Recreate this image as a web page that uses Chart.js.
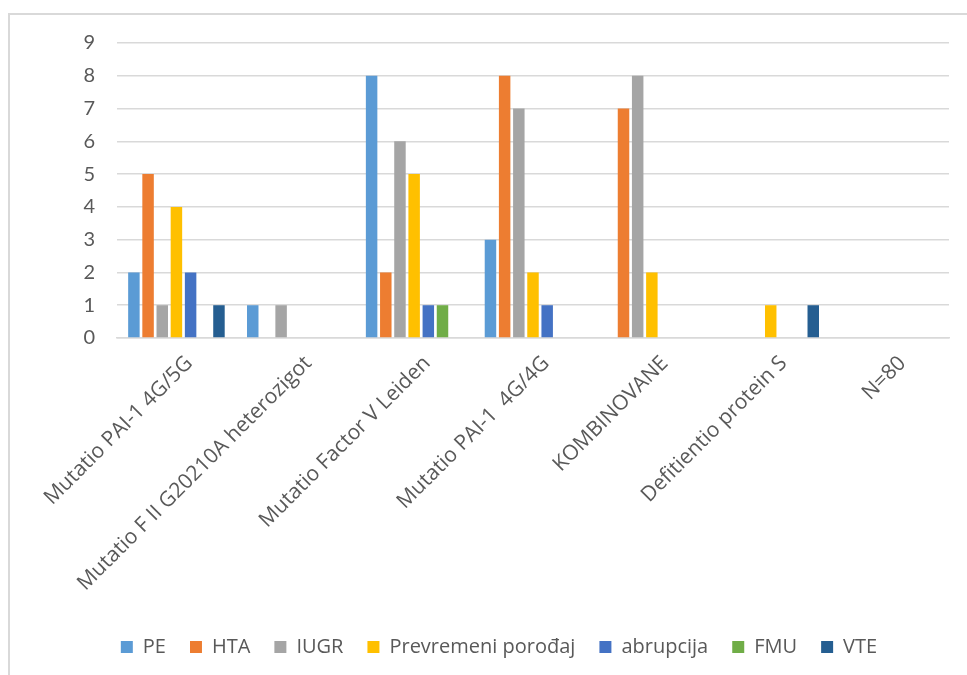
<!DOCTYPE html>
<html lang="sr">
<head>
  <meta charset="UTF-8">
  <title>Mutacije i komplikacije trudnoće</title>
  <script src="https://cdn.jsdelivr.net/npm/chart.js"></script>
  <style>
    html, body { margin: 0; padding: 0; background: #fff; overflow: hidden; }
    .frame { position: absolute; left: 8px; top: 13px; width: 1000px; height: 700px; border: 2px solid #d9d9d9; }
    .wrap { position: absolute; left: 0; top: 0; width: 967px; height: 675px; }
  </style>
</head>
<body>
  <div class="frame"></div>
  <div class="wrap"><canvas id="chart"></canvas></div>

  <script>
    // Categories (mutations) and counts per complication
    const categories = [
      'Mutatio PAI-1 4G/5G',
      'Mutatio F II G20210A heterozigot',
      'Mutatio Factor V Leiden',
      'Mutatio PAI-1  4G/4G',
      'KOMBINOVANE',
      'Defitientio protein S',
      'N=80'
    ];
    const pe         = [2, 1, 8, 3, 0, 0, 0];
    const hta        = [5, 0, 2, 8, 7, 0, 0];
    const iugr       = [1, 1, 6, 7, 8, 0, 0];
    const prevremeni = [4, 0, 5, 2, 2, 1, 0];
    const abrupcija  = [2, 0, 1, 1, 0, 0, 0];
    const fmu        = [0, 0, 1, 0, 0, 0, 0];
    const vte        = [1, 0, 0, 0, 0, 1, 0];
    const yTicks = [0, 1, 2, 3, 4, 5, 6, 7, 8, 9];

    const textColor = '#595959';
    const gridColor = '#d9d9d9';
    const fontFamily = '"Open Sans", Lato, sans-serif';

    function series(label, data, color) {
      return { label: label, data: data, backgroundColor: color, categoryPercentage: 0.835, barPercentage: 0.81 };
    }

    new Chart('chart', {
      type: 'bar',
      data: {
        labels: categories,
        datasets: [
          series('PE', pe, '#5b9bd5'),
          series('HTA', hta, '#ed7d31'),
          series('IUGR', iugr, '#a5a5a5'),
          series('Prevremeni porođaj', prevremeni, '#ffc000'),
          series('abrupcija', abrupcija, '#4472c4'),
          series('FMU', fmu, '#70ad47'),
          series('VTE', vte, '#255e91')
        ]
      },
      options: {
        responsive: true,
        maintainAspectRatio: false,
        animation: false,
        layout: { padding: { left: 31, right: 0, top: 43, bottom: 8 } },
        scales: {
          x: {
            grid: { display: false },
            border: { color: gridColor, width: 1.5 },
            ticks: {
              color: textColor,
              font: { family: fontFamily, size: 21 },
              autoSkip: false,
              minRotation: 45,
              maxRotation: 45,
              padding: 5,
              labelOffset: 13
            },
            afterFit: scale => { scale.height = 275; }
          },
          y: {
            min: yTicks[0],
            max: yTicks[yTicks.length - 1],
            afterBuildTicks: scale => { scale.ticks = yTicks.map(v => ({ value: v })); },
            grid: { color: gridColor, lineWidth: 1.5, drawTicks: false },
            border: { display: false },
            ticks: {
              color: textColor,
              font: { family: 'Lato, sans-serif', size: 20 },
              padding: 22
            },
            afterFit: scale => { scale.width = 86; }
          },
          // empty strip on the right so the plot ends before the frame edge
          yRight: {
            position: 'right',
            grid: { display: false },
            border: { display: false },
            ticks: { display: false },
            afterFit: scale => { scale.width = 18; }
          }
        },
        plugins: {
          legend: {
            position: 'bottom',
            labels: {
              color: textColor,
              font: { family: fontFamily, size: 20 },
              boxWidth: 12,
              boxHeight: 12,
              padding: 24
            }
          },
          tooltip: { enabled: false }
        }
      }
    });
  </script>
</body>
</html>
